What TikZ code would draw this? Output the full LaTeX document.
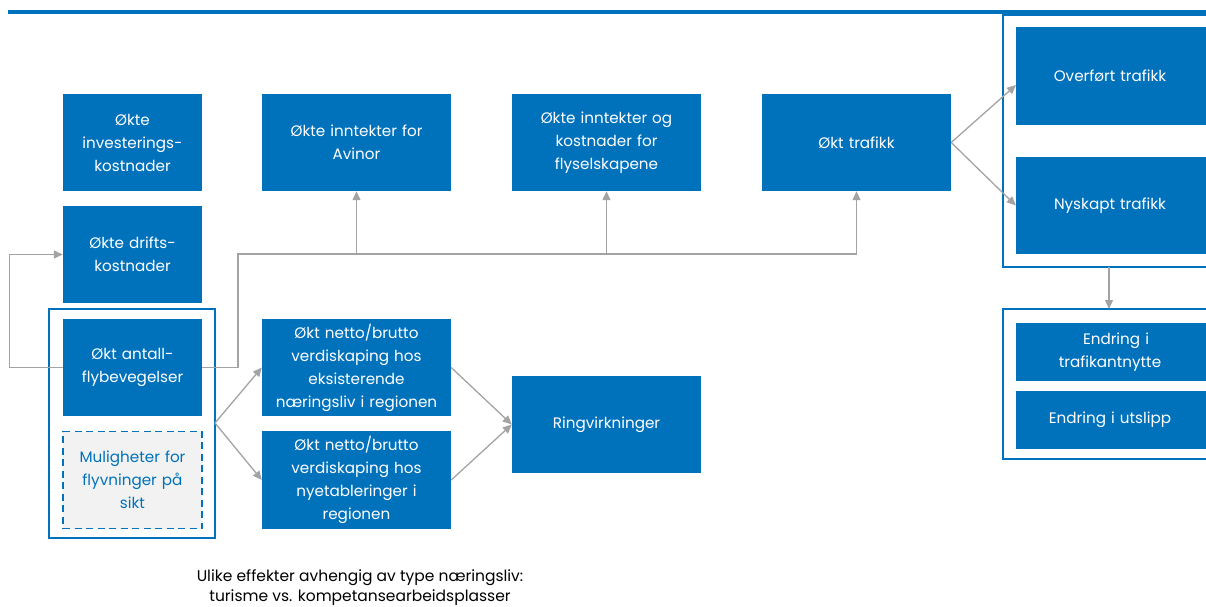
\documentclass[tikz,border=0pt]{standalone}
\usepackage{fontspec}
\setmainfont{Poppins}
\usetikzlibrary{arrows.meta}
\definecolor{bblue}{RGB}{0,114,188}
\definecolor{agray}{RGB}{163,163,163}
\definecolor{lgray}{RGB}{242,242,242}
\begin{document}
\begin{tikzpicture}[x=1pt,y=-1pt,
  box/.style={fill=bblue, text=white, align=center, inner sep=0pt, text width=185pt,
    font=\fontsize{15.2}{23}\selectfont},
  dbox/.style={fill=lgray, draw=bblue, line width=1.4pt, dash pattern=on 7pt off 4.5pt,
    text=bblue, align=center, inner sep=0pt, text width=136pt, font=\fontsize{15.2}{23}\selectfont},
  frame/.style={draw=bblue, line width=1.5pt},
  conn/.style={draw=agray, line width=1.3pt, -{Triangle[length=9pt,width=8pt]}},
  gline/.style={draw=agray, line width=1.3pt}]
\useasboundingbox (0,0) rectangle (1206,606);
\clip (0,0) rectangle (1206,606);
% header rule
\fill[bblue] (8,10) rectangle (1206,14);
% frames
\draw[frame] (49,309) rectangle (215,538);
\draw[frame] (1003,15) rectangle (1230,267);
\draw[frame] (1003,309) rectangle (1230,459);
% left column
\node[box, minimum width=139pt, minimum height=97pt, text width=136pt] (inv) at (132.5,142.5) {Økte\\investerings-\\kostnader};
\node[box, minimum width=139pt, minimum height=97pt, text width=136pt] (drift) at (132.5,254.5) {Økte drifts-\\kostnader};
\node[box, minimum width=139pt, minimum height=97pt, text width=136pt] (antall) at (132.5,367.5) {Økt antall-\\flybevegelser};
\node[dbox, minimum width=139pt, minimum height=97pt] (mul) at (132.5,480) {Muligheter for\\flyvninger på\\sikt};
% top row
\node[box, minimum width=189pt, minimum height=97pt] (avinor) at (356.5,142.5) {Økte inntekter for\\Avinor};
\node[box, minimum width=189pt, minimum height=97pt] (fly) at (606.5,142.5) {Økte inntekter og\\kostnader for\\flyselskapene};
\node[box, minimum width=189pt, minimum height=97pt] (trafikk) at (856.5,142.5) {Økt trafikk};
% middle
\node[box, minimum width=189pt, minimum height=97pt] (eks) at (356.5,367.5) {Økt netto/brutto\\verdiskaping hos\\eksisterende\\næringsliv i regionen};
\node[box, minimum width=189pt, minimum height=98pt] (nye) at (356.5,480) {Økt netto/brutto\\verdiskaping hos\\nyetableringer i\\regionen};
\node[box, minimum width=189pt, minimum height=97pt] (ring) at (606.5,424.5) {Ringvirkninger};
% right
\node[box, minimum width=200pt, minimum height=98pt] (over) at (1116,76) {Overført trafikk\hspace*{12pt}};
\node[box, minimum width=200pt, minimum height=97pt] (nysk) at (1116,205.5) {Nyskapt trafikk\hspace*{12pt}};
\node[box, minimum width=200pt, minimum height=58pt] (nytte) at (1116,352) {Endring i\hspace*{12pt}\\trafikantnytte\hspace*{12pt}};
\node[box, minimum width=200pt, minimum height=58pt] (utsl) at (1116,420) {Endring i utslipp\hspace*{12pt}};
% note
\node[align=center, font=\fontsize{15.5}{20}\selectfont] (note) at (360,588) {Ulike effekter avhengig av type næringsliv:\\turisme vs. kompetansearbeidsplasser};
% connectors
\draw[conn] (antall.west) -- ++(-53,0) |- (drift.west);
\coordinate (b1) at (238,254);
\draw[conn] (antall.east) -| (b1) -- (b1 -| trafikk.south) -- (trafikk.south);
\draw[conn] (b1 -| avinor.south) -- (avinor.south);
\draw[conn] (b1 -| fly.south) -- (fly.south);
\coordinate (fork) at (215,423);
\draw[conn] (fork) -- (eks.west);
\draw[conn] (fork) -- (nye.west);
\draw[conn] (eks.east) -- (ring.west);
\draw[conn] (nye.east) -- (ring.west);
\coordinate (ovin) at (1016,85);
\draw[conn] (trafikk.east) -- (ovin);
\draw[conn] (trafikk.east) -- (nysk.west);
\coordinate (dtop) at (1109,267);
\coordinate (dbot) at (1109,309);
\draw[conn] (dtop) -- (dbot);
\end{tikzpicture}
\end{document}
